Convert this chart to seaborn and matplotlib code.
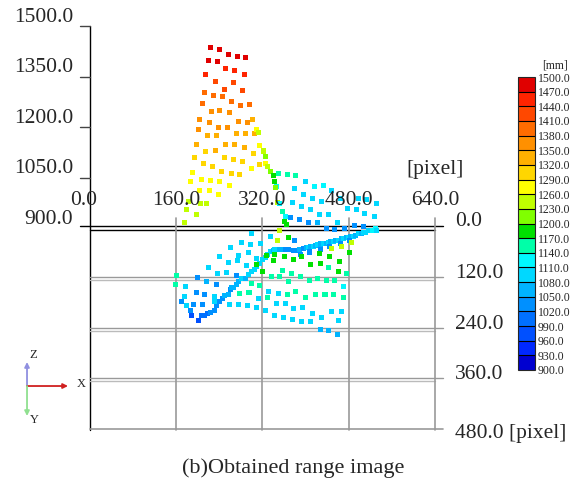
import pandas as pd
import matplotlib
matplotlib.use('Agg')
import matplotlib.pyplot as plt
from matplotlib.colors import ListedColormap, BoundaryNorm
from matplotlib.cm import ScalarMappable
import seaborn as sns

sns.set_style('white')
plt.rcParams['font.family'] = ['Liberation Serif', 'DejaVu Serif']

# Depth colour scale: 20 steps of 30 mm from 900 to 1500 mm
depth_levels = list(range(900, 1501, 30))
depth_colors = ['#0000d0', '#0028ff', '#0050ff', '#0070ff', '#0090ff',
                '#00b4ff', '#00d8ff', '#00f8ff', '#00ffa8', '#00e000',
                '#80ff00', '#c0ff00', '#ffff00', '#ffd600', '#ffb000',
                '#ff9000', '#ff6c00', '#ff4800', '#ff2400', '#e00000']

depth_ticks = [900, 1050, 1200, 1350, 1500]
col_ticks = [0, 160, 320, 480, 640]
row_ticks = [0, 120, 240, 360, 480]

# Range points: image column [pixel], image row [pixel], depth [mm]
# upper surface (orange / red part)
a_col = [223, 240, 257, 274, 289, 219, 237,
         252, 269, 286, 215,
         232, 266, 249, 283,
         212, 229, 246, 263, 209, 280, 296,
         226, 241, 258, 204, 221, 275, 293,
         301,
         238, 255, 201,
         218, 235, 272, 289, 306,
         308, 312,
         198, 252, 269, 286,
         315, 322, 215, 232, 303, 326,
         193, 210, 228, 249, 266, 283,
         299, 315, 325, 330, 334, 340,
         349, 367, 382,
         191, 207, 224, 241,
         244, 262, 278,
         258, 187, 204, 221, 238,
         342,
         182, 179, 176, 197, 216, 205]
a_row = [39, 45, 55, 61, 63, 69, 73,
         65, 70, 80, 80,
         71, 75, 90, 94,
         74, 80, 84, 96, 100, 106, 102,
         94, 92, 98, 115, 122, 118, 122,
         89,
         134, 134, 139,
         129, 129, 123, 123, 123,
         66, 49,
         149, 149, 149, 157,
         105, 93, 143, 163, 147, 81,
         157, 170, 177, 157, 161, 165,
         158, 174, 146, 130, 118, 104,
         74, 76, 80,
         169, 184, 186, 190,
         190, 194, 196,
         198, 190, 212, 210, 220,
         118,
         214, 232, 263, 245, 217, 217]
a_depth = [1485, 1485, 1485, 1485, 1485, 1485, 1485,
           1455, 1455, 1455, 1455,
           1425, 1425, 1425, 1425,
           1395, 1395, 1395, 1395, 1395, 1395, 1395,
           1365, 1365, 1365, 1365, 1365, 1365, 1365,
           1335,
           1365, 1365, 1365,
           1335, 1335, 1335, 1335, 1335,
           1275, 1245,
           1335, 1335, 1335, 1335,
           1275, 1245, 1305, 1335, 1305, 1215,
           1305, 1305, 1305, 1305, 1305, 1305,
           1275, 1305, 1275, 1245, 1215, 1185,
           1155, 1155, 1155,
           1275, 1275, 1275, 1275,
           1305, 1305, 1305,
           1275, 1275, 1275, 1275, 1275,
           1185,
           1245, 1245, 1245, 1245, 1245, 1245]

# green edge running down
b_col = [346, 344, 347, 352, 357, 362, 360, 365, 351, 368, 347, 380, 300, 334, 316]
b_row = [82, 155, 216, 121, 165, 153, 213, 219, 281, 250, 305, 137, 169, 177, 192]
b_depth = [1125, 1215, 1245, 1125, 1155, 1125, 1185, 1185, 1245, 1185, 1245, 1035,
           1095, 1095, 1095]

# cyan patch on the right
c_col = [399, 416, 433, 448,
         379, 396, 413, 430, 464, 498, 513, 531,
         376, 393, 409, 425, 442, 477, 494, 510, 527,
         372, 388, 406, 422, 439, 454, 472, 490, 507,
         459]
c_row = [46, 82, 78, 66,
         62, 76, 85, 92, 85, 85, 88, 97,
         96, 105, 112, 123, 125, 110, 112, 122, 129,
         84, 87, 95, 119, 109, 112, 109, 103, 105,
         143]
c_depth = [1095, 1125, 1125, 1095,
           1095, 1095, 1095, 1095, 1095, 1095, 1095, 1095,
           1095, 1095, 1095, 1095, 1095, 1095, 1095, 1095, 1095,
           1035, 1035, 1035, 1065, 1035, 1035, 1035, 1035, 1035,
           1095]

# dense diagonal line
d_col = [189, 201, 206, 212, 218, 224, 231, 235, 240, 245,
         250, 257, 260, 266, 272, 276, 281, 288, 294, 300,
         305, 309, 314, 320, 325, 329, 334, 340, 347, 354,
         362, 369,
         377, 383, 388, 396, 401, 405, 410, 414, 419, 423,
         428, 433, 438, 442, 447, 451, 456, 461, 466, 470,
         475, 479, 484, 488, 493, 498, 503, 507, 512, 516,
         521, 525, 529, 532,
         390, 408, 427, 445, 464, 482]
d_row = [269, 279, 293, 291, 288, 308, 303, 291, 283, 275,
         292, 290, 255, 274, 267, 260, 277, 252, 266, 260,
         255, 248, 240, 232, 227, 219, 212, 185, 184, 183,
         158, 160,
         161, 162, 183, 157, 178, 202, 176, 199, 174, 196,
         170, 192, 168, 191, 164, 187, 162, 185, 158, 180,
         155, 178, 152, 175, 149, 170, 144, 167, 166, 163,
         162, 185, 182, 161,
         170, 165, 159, 152, 145, 137]
d_depth = [975, 975, 1005, 1005, 1005, 1035, 1035, 1035, 1035, 1035,
           1065, 1065, 1035, 1065, 1065, 1065, 1095, 1065, 1095, 1095,
           1095, 1095, 1095, 1095, 1095, 1095, 1095, 1065, 1065, 1065,
           1035, 1035,
           1035, 1035, 1065, 1035, 1065, 1095, 1065, 1095, 1065, 1095,
           1065, 1095, 1065, 1095, 1065, 1095, 1065, 1095, 1065, 1095,
           1065, 1095, 1065, 1095, 1065, 1095, 1065, 1095, 1095, 1095,
           1095, 1125, 1125, 1095,
           1035, 1035, 1035, 1035, 1035, 1035]

# green points under the line
e_col = [360, 377, 393, 409, 427, 442, 461, 445, 462, 481, 448, 467, 485, 425, 476,
         328, 343, 340, 308, 320, 300, 315]
e_row = [295, 302, 296, 314, 312, 298, 332, 296, 308, 286, 324, 319, 311, 288, 312,
         294, 292, 306, 314, 332, 335, 341]
e_depth = [1185, 1185, 1185, 1185, 1185, 1155, 1185, 1185, 1185, 1185, 1245, 1245,
           1245, 1185, 1155, 1185, 1185, 1185, 1185, 1185, 1155, 1155]

# teal points
t_col = [357, 352, 337, 368, 374, 391, 407, 422, 438, 454, 470, 161, 158, 278, 295,
         329, 366, 382, 399, 419, 436, 451, 470]
t_row = [304, 320, 320, 332, 312, 320, 329, 324, 329, 328, 318, 316, 339, 359, 357,
         370, 363, 355, 370, 363, 363, 363, 369]
t_depth = [1155, 1155, 1155, 1155, 1155, 1155, 1155, 1155, 1155, 1155, 1125, 1155,
           1155, 1155, 1155, 1155, 1155, 1155, 1155, 1155, 1155, 1155, 1155]

# cyan / blue lower points
f_col = [281, 260, 297, 240, 275, 294, 219, 257, 274, 291,
         309, 342, 216, 237, 254, 271, 199, 234, 178, 197,
         212, 231, 263, 332, 349, 313, 175, 170, 192, 209,
         179, 186, 231, 258, 275, 293, 309, 326, 346, 362,
         359, 342, 377, 395, 413, 430, 448, 466, 376, 393,
         409, 427, 442, 459, 461]
f_row = [190, 203, 196, 224, 222, 214, 250, 238, 234, 244,
         228, 208, 258, 265, 262, 222, 226, 242, 295, 261,
         265, 318, 274, 306, 311, 323, 319, 283, 289, 289,
         339, 303, 331, 337, 337, 339, 345, 353, 335, 335,
         369, 364, 347, 345, 359, 368, 355, 355, 373, 377,
         379, 374, 376, 385, 375]
f_depth = [1095, 1095, 1095, 1095, 1095, 1095, 1095, 1095, 1095, 1095,
           1095, 1095, 1065, 1095, 1095, 1035, 1035, 1035, 1095, 1035,
           1035, 1095, 1065, 1095, 1095, 1095, 1095, 1035, 1035, 1035,
           1095, 1035, 1095, 1095, 1095, 1095, 1095, 1095, 1095, 1095,
           1095, 1095, 1095, 1095, 1095, 1095, 1095, 1095, 1095, 1095,
           1095, 1065, 1065, 1065, 1095]

cols = a_col + b_col + c_col + d_col + e_col + t_col + f_col
rows = a_row + b_row + c_row + d_row + e_row + t_row + f_row
depths = a_depth + b_depth + c_depth + d_depth + e_depth + t_depth + f_depth

df = pd.DataFrame({'col': cols, 'row': rows, 'depth': depths})
# oblique view: depth lifts a point up the screen (600 mm ~ 480 image rows)
LIFT = 0.8
df['screen'] = df['row'] - LIFT * (df['depth'] - 900)

cmap = ListedColormap(depth_colors)
norm = BoundaryNorm(depth_levels, cmap.N)
pal = {d: cmap(norm(d)) for d in df['depth'].unique()}

fig = plt.figure(figsize=(5.74, 4.79), dpi=100)
ax = fig.add_axes([0, 0, 1, 1])
ax.set_xlim(-167, 898)
ax.set_ylim(596.4, -541.8)
ax.axis('off')
px, py = 640 / 345, 480 / 202   # data units per screen pixel

sns.scatterplot(data=df, x='col', y='screen', hue='depth', palette=pal,
                marker='s', s=13, linewidth=0, legend=False, ax=ax, zorder=3)

# depth axis on the left
ax.plot([0, 0], [-480, 480], color='black', lw=1, zorder=1)
for z in depth_ticks:
    v = -LIFT * (z - 900)
    if z > 900:
        ax.plot([-10 * px, 0], [v, v], color='#444444', lw=1, zorder=1)
    ax.text(-17 * px, v - 9 * py, f'{z:.1f}', ha='right', va='center',
            fontsize=15.5, zorder=5)

# image plane grid
for r in row_ticks:
    if r == 0:
        ax.plot([-10 * px, 640 + 8 * px], [-2 * py, -2 * py], color='black', lw=1, zorder=1)
        ax.plot([0, 640], [2 * py, 2 * py], color='black', lw=1, zorder=1)
        lab_v = -7 * py
    elif r == 480:
        ax.plot([0, 640 + 8 * px], [r - py, r - py], color='#999999', lw=1.2, zorder=1)
        lab_v = r + 3 * py
    else:
        ax.plot([0, 640 + 8 * px], [r - 1.5 * py, r - 1.5 * py], color='#999999', lw=1, zorder=1)
        ax.plot([0, 640], [r + 1.5 * py, r + 1.5 * py], color='#bbbbbb', lw=1, zorder=1)
        lab_v = r - 5 * py
    label = f'{r:.1f} [pixel]' if r == 480 else f'{r:.1f}'
    ax.text(640 + 20 * px, lab_v, label, ha='left', va='center', fontsize=15.5, zorder=5)

for c in col_ticks[1:]:
    ax.plot([c, c], [-10 * py, 480], color='#999999', lw=1.2, zorder=1)
for c in col_ticks:
    xx = c - 6 * px if c == 0 else c
    ax.text(xx, -28 * py, f'{c:.1f}', ha='center', va='center', fontsize=15.5, zorder=5)
ax.text(640, -59 * py, '[pixel]', ha='center', va='center', fontsize=15.5, zorder=5)

# little XYZ triad
ox, oy = -63 * px, 158 * py
arrows = [((ox, oy - 24 * py), '#3030c0', '#9090e0'),
          ((ox + 41 * px, oy), '#d02020', '#d02020'),
          ((ox, oy + 30 * py), '#20a020', '#90e090')]
for end, head, line in arrows:
    ax.annotate('', xy=end, xytext=(ox, oy),
                arrowprops=dict(arrowstyle='-|>', color=line, lw=1.3,
                                mutation_scale=7, shrinkA=0, shrinkB=0), zorder=4)
ax.text(ox + 6 * px, oy - 31 * py, 'Z', fontsize=9, ha='center', va='center')
ax.text(ox + 54 * px, oy - 2 * py, 'X', fontsize=9, ha='center', va='center')
ax.text(ox + 7 * px, oy + 34 * py, 'Y', fontsize=9, ha='center', va='center')

# colour scale
cax = fig.add_axes([518 / 574, 109 / 479, 17 / 574, 293 / 479])
sm = ScalarMappable(norm=norm, cmap=cmap)
cb = fig.colorbar(sm, cax=cax, boundaries=depth_levels, ticks=depth_levels,
                  drawedges=True, format='%.1f')
cb.outline.set_linewidth(0.8)
cb.dividers.set_color('black')
cb.dividers.set_linewidth(0.8)
cb.ax.tick_params(labelsize=8.5, length=0, pad=2)
fig.text(555 / 574, 1 - 65 / 479, '[mm]', ha='center', va='center', fontsize=8.5)

fig.text(293 / 574, 1 - 473 / 479, '(b)Obtained range image', ha='center',
         va='baseline', fontsize=16)

fig.savefig('out.png', dpi=100)
